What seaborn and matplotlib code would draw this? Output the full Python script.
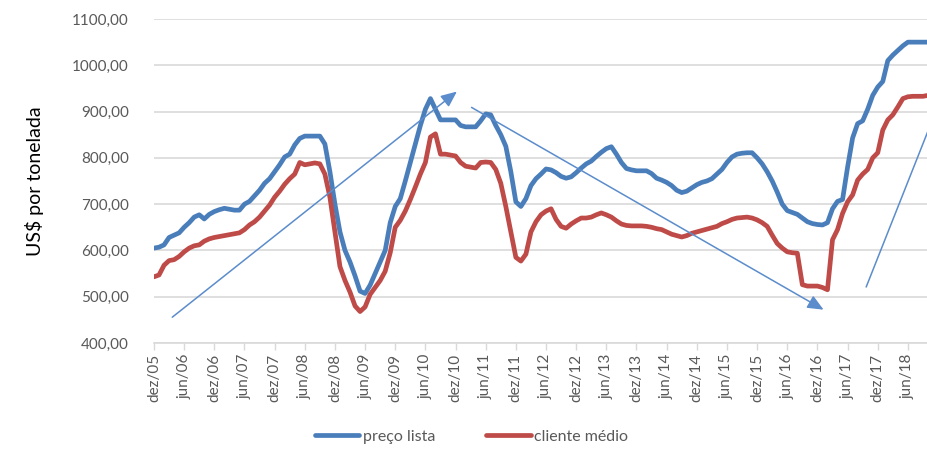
import numpy as np
import pandas as pd
import seaborn as sns
import matplotlib.pyplot as plt

# --------------------------- data ---------------------------
# monthly values, dez/05 .. out/18
preco_lista = [
    605, 607, 612, 628, 633, 638, 650, 660, 672, 677, 668, 678,
    684, 688, 691, 689, 687, 687, 700, 706, 718, 730, 745, 755,
    770, 785, 802, 808, 828, 842, 847, 847, 847, 847, 830, 770,
    700, 640, 600, 575, 545, 512, 507, 525, 550, 575, 600, 660,
    695, 712, 750, 790, 830, 870, 905, 928, 905, 882, 882, 882,
    882, 870, 867, 867, 867, 880, 895, 893, 870, 850, 825, 770,
    705, 695, 712, 740, 755, 765, 776, 774, 768, 760, 756, 759,
    768, 778, 787, 793, 803, 812, 820, 824, 808, 790, 777, 774,
    772, 772, 772, 766, 756, 752, 747, 740, 730, 725, 728, 735,
    742, 747, 750, 755, 765, 775, 790, 802, 808, 810, 811, 811,
    800, 787, 770, 750, 726, 700, 686, 682, 678, 670, 662, 658,
    656, 655, 660, 690, 706, 710, 780, 843, 874, 880, 905, 935,
    953, 965, 1010, 1022, 1032, 1042, 1050, 1050, 1050, 1050, 1050,
]
cliente_medio = [
    543, 547, 568, 578, 580, 587, 597, 605, 610, 612, 620, 625,
    628, 630, 632, 634, 636, 638, 645, 655, 662, 672, 685, 698,
    715, 728, 743, 755, 765, 790, 785, 787, 789, 787, 765, 715,
    640, 565, 535, 510, 480, 468, 478, 505, 520, 535, 555, 595,
    650, 665, 685, 710, 737, 765, 790, 845, 852, 808, 808, 806,
    804, 790, 782, 780, 778, 790, 791, 790, 775, 745, 695, 640,
    585, 577, 592, 640, 662, 677, 685, 690, 667, 652, 648, 657,
    664, 670, 670, 672, 677, 681, 677, 672, 664, 657, 654, 653,
    653, 653, 652, 650, 647, 645, 640, 635, 632, 629, 632, 637,
    640, 643, 646, 649, 652, 658, 662, 667, 670, 671, 672, 670,
    666, 660, 652, 633, 615, 605, 597, 595, 594, 526, 523, 523,
    523, 520, 515, 623, 645, 680, 705, 720, 752, 765, 775, 800,
    811, 860, 882, 893, 910, 928, 932, 933, 933, 933, 935,
]
tick_labels = [
    "dez/05", "jun/06", "dez/06", "jun/07", "dez/07", "jun/08", "dez/08",
    "jun/09", "dez/09", "jun/10", "dez/10", "jun/11", "dez/11", "jun/12",
    "dez/12", "jun/13", "dez/13", "jun/14", "dez/14", "jun/15", "dez/15",
    "jun/16", "dez/16", "jun/17", "dez/17", "jun/18",
]
y_ticks = [400, 500, 600, 700, 800, 900, 1000, 1100]

# trend arrows drawn by hand on the original (month index, value)
arrow_up = ((3.2, 452), (60.7, 947))
arrow_down = ((62.7, 912), (133.7, 469))
line_up = ((141.7, 521), (154, 858))

# --------------------------- build dataframe ----------------------------------
months = np.arange(len(preco_lista))
df = pd.DataFrame({
    "mes": np.concatenate([months, months]),
    "valor": preco_lista + cliente_medio,
    "serie": ["preço lista"] * len(months) + ["cliente médio"] * len(months),
})

sns.set_theme(style="white")
plt.rcParams["font.family"] = ["Lato", "DejaVu Sans"]

grey = "#595959"
blue = "#4A7EBB"
red = "#BE4B48"
arrow_col = "#5B8CCB"

fig = plt.figure(figsize=(9.28, 4.49), dpi=100)
ax = fig.add_axes([154 / 928, 1 - 343 / 449, 1 - 154 / 928, (343 - 19) / 449])

sns.lineplot(data=df, x="mes", y="valor", hue="serie",
             palette={"preço lista": blue, "cliente médio": red},
             linewidth=3.4, ax=ax, zorder=3)

# arrows
head = "-|>,head_length=0.8,head_width=0.35"
ax.annotate("", xy=arrow_up[1], xytext=arrow_up[0],
            arrowprops=dict(arrowstyle=head, color=arrow_col, lw=1.1), zorder=4)
ax.annotate("", xy=arrow_down[1], xytext=arrow_down[0],
            arrowprops=dict(arrowstyle=head, color=arrow_col, lw=1.1), zorder=4)
ax.plot([line_up[0][0], line_up[1][0]], [line_up[0][1], line_up[1][1]],
        color=arrow_col, lw=1.1, zorder=4)

# axes styling
ax.set_xlim(0, len(months) - 1)
ax.set_ylim(400, 1100)
ax.set_yticks(y_ticks)
ax.set_yticklabels([f"{v:.2f}".replace(".", ",") for v in y_ticks],
                   color=grey, fontsize=11)
ax.set_xticks(np.arange(len(tick_labels)) * 6)
ax.set_xticklabels(tick_labels, rotation=90, color=grey, fontsize=11)
ax.tick_params(axis="x", length=5, width=1, color="#d9d9d9", pad=3,
               bottom=True, direction="out")
ax.tick_params(axis="y", length=0, pad=18)
ax.grid(axis="y", color="#d9d9d9", lw=1.2)
ax.set_axisbelow(True)
for s in ["top", "right", "left"]:
    ax.spines[s].set_visible(False)
ax.spines["bottom"].set_color("#d9d9d9")
ax.spines["bottom"].set_linewidth(1.2)
ax.set_xlabel("")
ax.set_ylabel("US$ por tonelada", fontsize=14, color="black", labelpad=20)

ax.legend(loc="center", bbox_to_anchor=(0.41, -0.29), ncol=2,
          frameon=False, fontsize=11.5, handlelength=2.8, columnspacing=3.2,
          handletextpad=0.2, labelcolor=grey)

plt.savefig("out.png", dpi=100)
